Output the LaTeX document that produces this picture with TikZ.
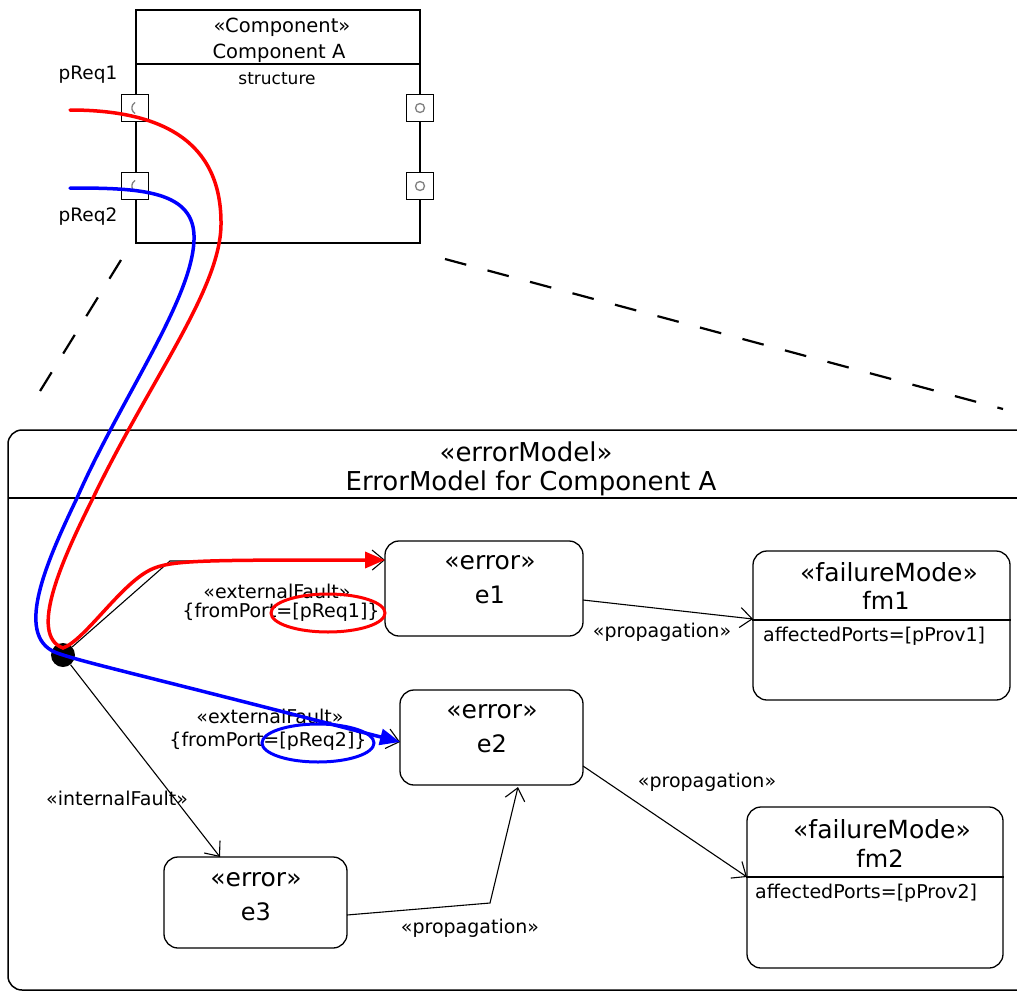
\documentclass[tikz,border=0pt]{standalone}
\usepackage{fontspec}
\setmainfont{DejaVu Sans}
\usetikzlibrary{arrows.meta,shapes.geometric}
\begin{document}
\begin{tikzpicture}[x=1pt,y=-1pt,
  frame/.style={line width=1.3pt},
  port/.style={draw, fill=white, line width=1.1pt, minimum size=27pt, inner sep=0},
  errbox/.style={draw, line width=1.3pt, rounded corners=14pt, inner sep=0},
  txt/.style={inner sep=0, font=\fontsize{#1}{#1}\selectfont},
  txt/.default=19,
  conn/.style={line width=1.1pt, -{Straight Barb[length=12pt,width=20pt]}},
  hl/.style={line width=3.5pt, line cap=round, -{Triangle[length=20pt,width=16pt]}},
  hlell/.style={ellipse, draw, line width=3pt, inner sep=0},
  dashline/.style={line width=2.2pt, dash pattern=on 22pt off 22pt},
  portsym/.style={gray, line width=1.3pt}
]
\useasboundingbox (0,0) rectangle (1017,993);
\begin{scope}
\clip (0,0) rectangle (1017,993);

% ---- Component A ----
\node[draw, frame, minimum width=284pt, minimum height=233pt, inner sep=0] (comp) at (278,126.5) {};
\draw[frame] (comp.west |- 0,64) -- (comp.east |- 0,64);
\node[txt=19.5] (cst) at (282,27) {«Component»};
\node[txt=19.5] (cname) at (279,53) {Component A};
\node[txt=17] (cstruct) at (277,79) {structure};
\node[port] (p1) at (135,108) {};
\node[port] (p2) at (135,186) {};
\node[port] (p3) at (420,108) {};
\node[port] (p4) at (420,186) {};
\draw[portsym] (p1.center) ++(0.1,5.5) arc[start angle=120,end angle=240,radius=6.4];
\draw[portsym] (p2.center) ++(0.1,5.5) arc[start angle=120,end angle=240,radius=6.4];
\draw[portsym] (p3.center) circle[radius=4.5];
\draw[portsym] (p4.center) circle[radius=4.5];
\node[txt=18.5] (lreq1) at (88,75) {pReq1};
\node[txt=18.5] (lreq2) at (88,217) {pReq2};

% ---- dashed zoom lines ----
\coordinate (dA1) at (121,260); \coordinate (dA2) at (37,396);
\coordinate (dB1) at (445,259); \coordinate (dB2) at (1003,409);
\draw[dashline] (dA1) -- (dA2);
\draw[dashline] (dB1) -- (dB2);

% ---- Error model frame ----
\draw[line width=1.5pt, rounded corners=14pt] (1040,430) -- (8,430) -- (8,990) -- (1040,990);
\draw[line width=1.5pt] (8,498) -- (1040,498);
\node[txt=26] (emst) at (526,452) {«errorModel»};
\node[txt=26] (emname) at (531,483) {ErrorModel for Component A};

% ---- error nodes ----
\node[errbox, minimum width=198pt, minimum height=95pt] (e1) at (484,588.5) {};
\node[txt=25] (e1st) at (490,563) {«error»};
\node[txt=24] (e1n) at (490,595) {e1};
\node[errbox, minimum width=183pt, minimum height=95pt] (e2) at (491.5,737.5) {};
\node[txt=25] (e2st) at (492,712) {«error»};
\node[txt=24] (e2n) at (492,744) {e2};
\node[errbox, minimum width=183pt, minimum height=91pt] (e3) at (255.5,902.5) {};
\node[txt=25] (e3st) at (256,880) {«error»};
\node[txt=24] (e3n) at (256,912) {e3};

% ---- failure modes ----
\node[errbox, minimum width=257pt, minimum height=149pt] (fm1) at (881.5,625.5) {};
\draw[frame] (fm1.west |- 0,620) -- (fm1.east |- 0,620);
\node[txt=25] (fm1st) at (889,572) {«failureMode»};
\node[txt=24] (fm1n) at (886,600) {fm1};
\node[txt, anchor=west] (fm1a) at (763,636) {affectedPorts=[pProv1]};
\node[errbox, minimum width=256pt, minimum height=161pt] (fm2) at (875,887.5) {};
\draw[frame] (fm2.west |- 0,877) -- (fm2.east |- 0,877);
\node[txt=25] (fm2st) at (882,829) {«failureMode»};
\node[txt=24] (fm2n) at (880,858) {fm2};
\node[txt, anchor=west] (fm2a) at (755,893) {affectedPorts=[pProv2]};

% ---- black connectors ----
\node[circle, fill=black, minimum size=24pt, inner sep=0] (dot) at (63,655) {};
\coordinate (k1) at (170,561);
\coordinate (e1in) at (385,560);
\coordinate (e2in) at (400,742);
\coordinate (e3in) at (220,857);
\draw[conn] (dot) -- (k1) -- (e1in);
\draw[conn] (dot) -- (e2in);
\draw[conn] (dot) -- (e3in);
\coordinate (e1out) at (583,600); \coordinate (fm1in) at (753,619);
\draw[conn] (e1out) -- (fm1in);
\coordinate (e2out) at (583,766); \coordinate (fm2in) at (747,877);
\draw[conn] (e2out) -- (fm2in);
\coordinate (e3out) at (347,915); \coordinate (k2) at (490,903); \coordinate (e2in2) at (518,787);
\draw[conn] (e3out) -- (k2) -- (e2in2);

% ---- labels ----
\node[txt] (x1a) at (277,591) {«externalFault»};
\node[txt] (x1b) at (281,612) {\{fromPort=[pReq1]\}};
\node[txt] (x2a) at (270,716) {«externalFault»};
\node[txt] (x2b) at (268,741) {\{fromPort=[pReq2]\}};
\node[txt] (inf) at (117,798) {«internalFault»};
\node[txt] (pr1) at (662,632) {«propagation»};
\node[txt] (pr2) at (707,782) {«propagation»};
\node[txt] (pr3) at (470,928) {«propagation»};

% ---- highlights ----
\coordinate (r0) at (70,110);
\coordinate (b0) at (70,188);
\draw[red, hl] (r0) .. controls (160,110) and (222,140) .. (221,225)
  .. controls (220,290) and (150,380) .. (93,498)
  .. controls (62,560) and (28,635) .. (63,648)
  .. controls (85,640) and (120,585) .. (150,570)
  .. controls (170,560) and (200,560) .. (e1in);
\draw[blue, hl] (b0) .. controls (140,188) and (196,190) .. (194,240)
  .. controls (192,300) and (120,400) .. (77,498)
  .. controls (45,565) and (12,640) .. (60,654)
  .. controls (90,664) and (150,677) .. (e2in);
\node[hlell, red, minimum width=114pt, minimum height=38pt] (ell1) at (328,613) {};
\node[hlell, blue, minimum width=112pt, minimum height=38pt] (ell2) at (318,743) {};
\end{scope}
\end{tikzpicture}
\end{document}
